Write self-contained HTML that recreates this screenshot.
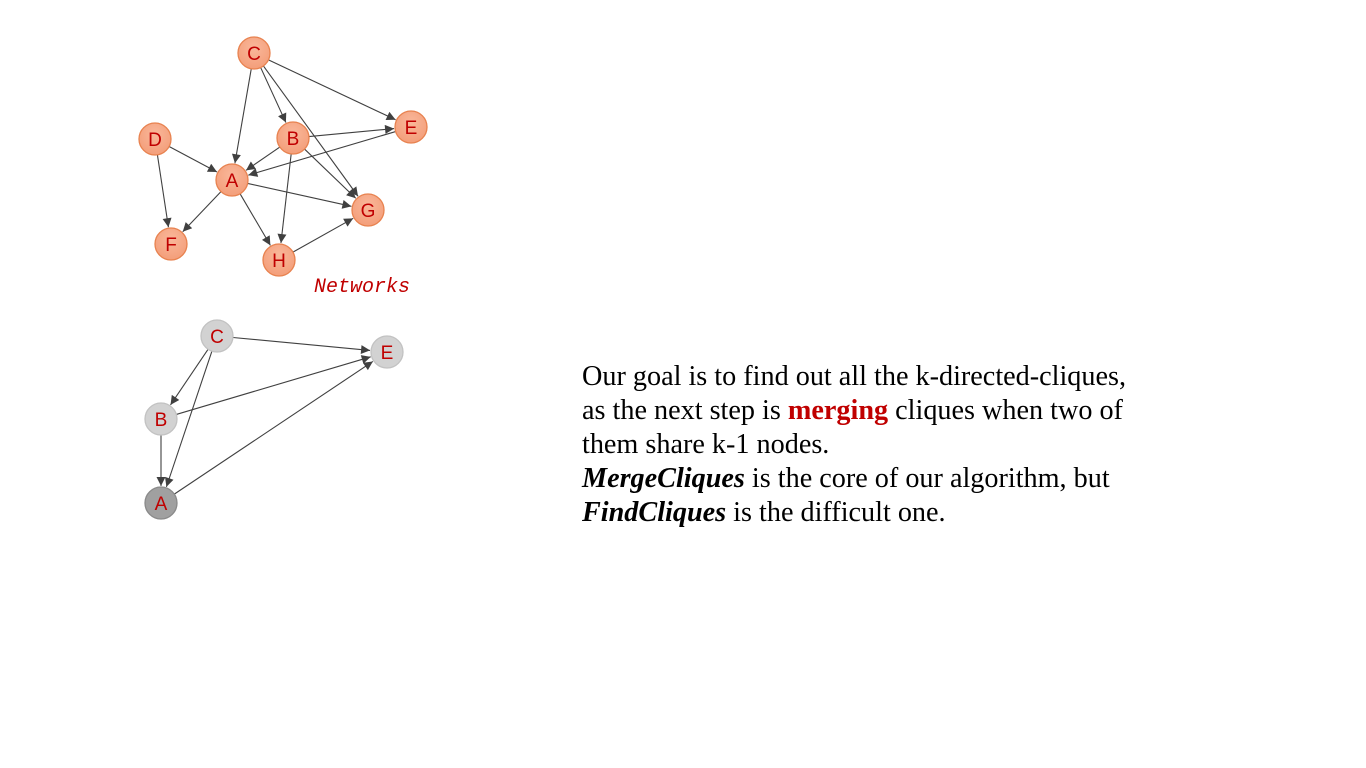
<!DOCTYPE html>
<html><head><meta charset="utf-8"><style>
html,body{margin:0;padding:0;background:#fff;width:1366px;height:768px;overflow:hidden;position:relative}
#txt{position:absolute;left:582px;top:360px;font-family:"Liberation Serif",serif;font-size:28.2px;line-height:34px;color:#000;white-space:nowrap}
#txt b.r{color:#c00000}
svg{position:absolute;left:0;top:0}
</style></head><body>
<svg id="s" width="1366" height="768" xmlns="http://www.w3.org/2000/svg">
<defs>
<marker id="ar" viewBox="0 0 10 10" refX="10" refY="5" markerWidth="10" markerHeight="9" markerUnits="userSpaceOnUse" orient="auto"><path d="M0,0 L10,5 L0,10 z" fill="#404040"/></marker>
<radialGradient id="og" cx="50%" cy="35%" r="60%"><stop offset="0" stop-color="#f9b79a"/><stop offset="1" stop-color="#f4a07c"/></radialGradient>
</defs>
<g id="edges" stroke="#404040" stroke-width="1.1" fill="none"></g>
<g id="nodes"></g>
<text x="314" y="292" font-family="Liberation Mono,monospace" font-style="italic" font-size="20" fill="#c00000">Networks</text>
</svg>
<div id="txt">Our goal is to find out all the k-directed-cliques,<br>as the next step is <b class="r">merging</b> cliques when two of<br>them share k-1 nodes.<br><b><i>MergeCliques</i></b> is the core of our algorithm, but<br><b><i>FindCliques</i></b> is the difficult one.</div>
<script>
var NS="http://www.w3.org/2000/svg";
function graph(nodes,edges,style){
 var eg=document.getElementById("edges"),ng=document.getElementById("nodes"),r=16;
 edges.forEach(function(e){var a=nodes[e[0]],b=nodes[e[1]];var dx=b[0]-a[0],dy=b[1]-a[1],d=Math.hypot(dx,dy);
  var l=document.createElementNS(NS,"line");l.setAttribute("x1",a[0]+dx/d*r);l.setAttribute("y1",a[1]+dy/d*r);
  l.setAttribute("x2",b[0]-dx/d*(r+1));l.setAttribute("y2",b[1]-dy/d*(r+1));l.setAttribute("marker-end","url(#ar)");eg.appendChild(l);});
 for(var k in nodes){var n=nodes[k];var c=document.createElementNS(NS,"circle");c.setAttribute("cx",n[0]);c.setAttribute("cy",n[1]);c.setAttribute("r",r);
  var st=style(k);c.setAttribute("fill",st[0]);c.setAttribute("stroke",st[1]);c.setAttribute("stroke-width","1.3");ng.appendChild(c);
  var t=document.createElementNS(NS,"text");t.setAttribute("x",n[0]);t.setAttribute("y",n[1]+7);t.setAttribute("text-anchor","middle");
  t.setAttribute("font-family","Liberation Sans,sans-serif");t.setAttribute("font-size","19");t.setAttribute("fill","#c00000");t.textContent=k;ng.appendChild(t);}
}
graph({C:[254,53],D:[155,139],B:[293,138],E:[411,127],A:[232,180],G:[368,210],F:[171,244],H:[279,260]},
 [["C","E"],["C","B"],["C","A"],["C","G"],["B","E"],["E","A"],["B","A"],["B","G"],["B","H"],["D","A"],["D","F"],["A","F"],["A","H"],["A","G"],["H","G"]],
 function(){return ["url(#og)","#e8824f"]});
graph({C:[217,336],E:[387,352],B:[161,419],A:[161,503]},
 [["C","E"],["C","B"],["C","A"],["B","E"],["B","A"],["A","E"]],
 function(k){return k=="A"?["#a0a0a0","#8a8a8a"]:["#d2d2d2","#c2c2c2"]});
</script>
</body></html>
